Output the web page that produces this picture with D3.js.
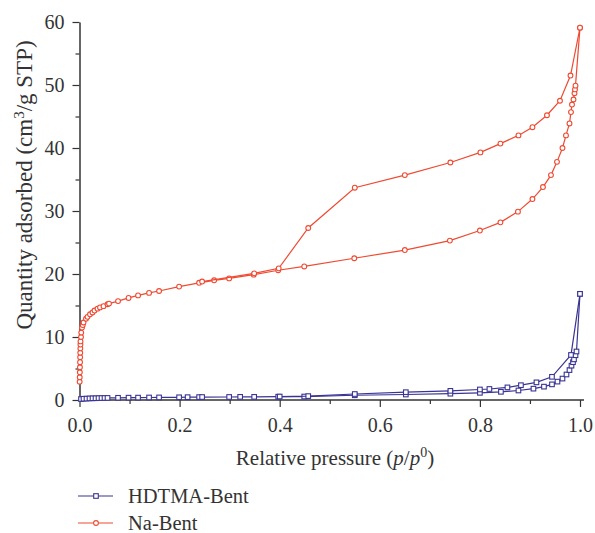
<!DOCTYPE html>
<html>
<head>
<meta charset="utf-8">
<script src="https://cdn.jsdelivr.net/npm/d3@7"></script>
<style>
  body { margin: 0; background: #fff; }
  svg text { font-family: "Liberation Serif", "DejaVu Serif", serif; fill: #333; }
</style>
</head>
<body>
<script>
// isotherm data (p/p0, cm3/g STP)
var naAdsP = [0.0003, 0.0005, 0.0007, 0.0009, 0.0011, 0.0013, 0.0015, 0.0017, 0.0019, 0.002, 0.003, 0.0035, 0.005, 0.0065, 0.008, 0.013, 0.016, 0.021, 0.026, 0.030, 0.036, 0.041, 0.048, 0.056, 0.059, 0.077, 0.098, 0.117, 0.139, 0.159, 0.199, 0.239, 0.269, 0.299, 0.348, 0.397, 0.449, 0.549, 0.650, 0.740, 0.800, 0.841, 0.876, 0.905, 0.926, 0.942, 0.954, 0.965, 0.972, 0.979, 0.982, 0.984, 0.987, 0.989, 0.990, 0.991, 1.0];
var naAdsV = [2.9, 3.6, 4.4, 5.2, 6.0, 6.8, 7.5, 8.2, 8.8, 9.3, 10.0, 10.7, 11.5, 11.9, 12.3, 12.9, 13.2, 13.6, 13.9, 14.2, 14.5, 14.7, 14.9, 15.2, 15.3, 15.7, 16.2, 16.6, 17.0, 17.3, 18.0, 18.6, 19.0, 19.3, 19.9, 20.6, 21.2, 22.5, 23.8, 25.3, 26.9, 28.2, 29.9, 31.9, 33.8, 35.7, 37.8, 40.0, 42.0, 43.9, 45.7, 46.9, 47.7, 48.7, 49.3, 49.9, 59.1];
var naDesP = [1.0, 0.981, 0.960, 0.934, 0.905, 0.877, 0.841, 0.801, 0.741, 0.650, 0.550, 0.457, 0.398, 0.349, 0.245];
var naDesV = [59.1, 51.5, 47.5, 45.2, 43.3, 42.0, 40.7, 39.3, 37.7, 35.7, 33.7, 27.3, 20.9, 20.1, 18.8];

var hdAdsP = [0.003, 0.008, 0.014, 0.02, 0.026, 0.032, 0.038, 0.044, 0.05, 0.056, 0.077, 0.098, 0.117, 0.139, 0.159, 0.199, 0.216, 0.239, 0.245, 0.299, 0.321, 0.349, 0.397, 0.449, 0.55, 0.652, 0.741, 0.80, 0.842, 0.877, 0.907, 0.928, 0.944, 0.955, 0.965, 0.973, 0.979, 0.983, 0.986, 0.988, 0.991, 0.993, 1.0];
var hdAdsV = [0.15, 0.2, 0.22, 0.25, 0.27, 0.28, 0.3, 0.31, 0.32, 0.33, 0.35, 0.37, 0.38, 0.4, 0.41, 0.43, 0.45, 0.46, 0.47, 0.48, 0.5, 0.5, 0.52, 0.55, 0.75, 0.87, 1.0, 1.14, 1.3, 1.51, 1.8, 2.12, 2.48, 2.92, 3.4, 4.05, 4.75, 5.45, 6.0, 6.45, 7.1, 7.7, 16.85];
var hdDesP = [1.0, 0.982, 0.944, 0.913, 0.882, 0.855, 0.819, 0.80, 0.741, 0.652, 0.55, 0.457, 0.40];
var hdDesV = [16.85, 7.15, 3.68, 2.8, 2.35, 2.0, 1.75, 1.67, 1.45, 1.24, 0.95, 0.62, 0.55];

var xTicks = [0, 0.2, 0.4, 0.6, 0.8, 1.0];
var yTicks = [0, 10, 20, 30, 40, 50, 60];

var red = "#ef4a32", blue = "#3a3494";

var width = 595, height = 533;
var svg = d3.select("body").append("svg")
    .attr("width", width)
    .attr("height", height);

var x = d3.scaleLinear().domain([0, 1]).range([79.5, 580]);
var y = d3.scaleLinear().domain([0, 60]).range([400, 22]);

// minor ticks first so the major ones draw over them
svg.append("g")
    .attr("transform", "translate(0,400)")
    .call(d3.axisBottom(x).tickValues(d3.range(0.1, 1, 0.2)).tickSize(4).tickFormat(""))
    .call(g => g.select(".domain").remove());
svg.append("g")
    .attr("transform", "translate(79.5,0)")
    .call(d3.axisLeft(y).tickValues(d3.range(5, 60, 10)).tickSize(4).tickFormat(""))
    .call(g => g.select(".domain").remove());

var xAxis = svg.append("g")
    .attr("transform", "translate(0,400)")
    .call(d3.axisBottom(x).tickValues(xTicks).tickSize(7).tickSizeOuter(0).tickPadding(11).tickFormat(d3.format(".1f")));
var yAxis = svg.append("g")
    .attr("transform", "translate(79.5,0)")
    .call(d3.axisLeft(y).tickValues(yTicks).tickSize(7).tickSizeOuter(0).tickPadding(8).tickFormat(d3.format("d")));

svg.selectAll(".tick line").attr("stroke", "#333").attr("stroke-width", 1.2);
svg.selectAll(".domain").attr("stroke", "#333").attr("stroke-width", 1.5);
svg.selectAll(".tick text").style("font-size", "20px").attr("fill", "#333");
xAxis.select(".domain").attr("d", "M79.5,0H584");

// axis titles
svg.append("text")
    .attr("x", 335).attr("y", 465)
    .attr("text-anchor", "middle")
    .style("font-size", "21px")
    .call(t => {
        t.append("tspan").text("Relative pressure (");
        t.append("tspan").style("font-style", "italic").text("p");
        t.append("tspan").text("/");
        t.append("tspan").style("font-style", "italic").text("p");
        t.append("tspan").attr("dy", -8).style("font-size", "14px").text("0");
        t.append("tspan").attr("dy", 8).text(")");
    });

svg.append("text")
    .attr("transform", "translate(32,185) rotate(-90)")
    .attr("text-anchor", "middle")
    .style("font-size", "23px")
    .call(t => {
        t.append("tspan").text("Quantity adsorbed (cm");
        t.append("tspan").attr("dy", -8).style("font-size", "15px").text("3");
        t.append("tspan").attr("dy", 8).text("/g STP)");
    });

var line = d3.line().x(d => x(d[0])).y(d => y(d[1]));

function drawBranch(ps, vs, color, shape) {
    var pts = ps.map((p, i) => [p, vs[i]]);
    svg.append("path")
        .datum(pts)
        .attr("d", line)
        .attr("fill", "none")
        .attr("stroke", color)
        .attr("stroke-width", 1.2);
    if (shape === "circle") {
        svg.append("g").selectAll("circle")
            .data(pts).enter().append("circle")
            .attr("cx", d => x(d[0]))
            .attr("cy", d => y(d[1]))
            .attr("r", 2.4)
            .attr("fill", "#fff")
            .attr("stroke", color)
            .attr("stroke-width", 1.1);
    } else {
        svg.append("g").selectAll("rect")
            .data(pts).enter().append("rect")
            .attr("x", d => x(d[0]) - 2.3)
            .attr("y", d => y(d[1]) - 2.3)
            .attr("width", 4.6)
            .attr("height", 4.6)
            .attr("fill", "#fff")
            .attr("stroke", color)
            .attr("stroke-width", 1.1);
    }
}

drawBranch(hdAdsP, hdAdsV, blue, "square");
drawBranch(hdDesP, hdDesV, blue, "square");
drawBranch(naAdsP, naAdsV, red, "circle");
drawBranch(naDesP, naDesV, red, "circle");

// legend
var legend = [
    { name: "HDTMA-Bent", color: blue, shape: "square" },
    { name: "Na-Bent", color: red, shape: "circle" }
];
legend.forEach((d, i) => {
    var ly = 496 + i * 27;
    svg.append("line")
        .attr("x1", 78).attr("x2", 113)
        .attr("y1", ly).attr("y2", ly)
        .attr("stroke", d.color).attr("stroke-width", 1.2);
    if (d.shape === "circle") {
        svg.append("circle").attr("cx", 96).attr("cy", ly).attr("r", 2.4)
            .attr("fill", "#fff").attr("stroke", d.color).attr("stroke-width", 1.1);
    } else {
        svg.append("rect").attr("x", 93.7).attr("y", ly - 2.3).attr("width", 4.6).attr("height", 4.6)
            .attr("fill", "#fff").attr("stroke", d.color).attr("stroke-width", 1.1);
    }
    svg.append("text")
        .attr("x", 128).attr("y", ly + 7)
        .style("font-size", "20.5px")
        .text(d.name);
});
</script>
</body>
</html>
